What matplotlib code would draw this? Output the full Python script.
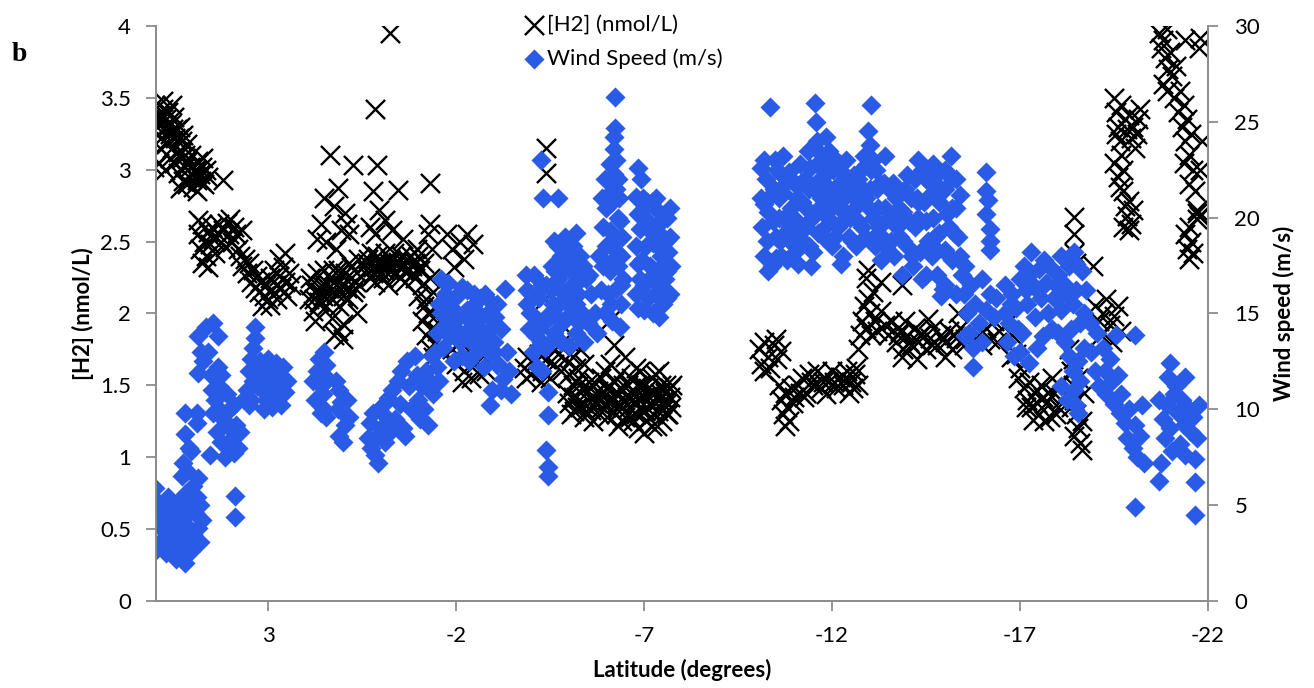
import numpy as np
import matplotlib.pyplot as plt
import matplotlib
from matplotlib.ticker import FuncFormatter

matplotlib.rcParams.update({'font.family': ['Lato', 'DejaVu Sans'], 'font.size': 16,
                            'axes.unicode_minus': False})

# dissolved H2 along the cruise track: (latitude, nmol/L)
h2_obs = [
    # 6N - 5N
    (6.0, 3.45), (5.95, 3.30), (5.9, 3.38), (5.85, 3.22), (5.8, 3.42), (5.78, 3.28), (5.72, 3.35),
    (5.7, 3.18), (5.65, 3.40), (5.62, 3.25), (5.58, 3.32), (5.55, 3.15), (5.5, 3.37), (5.47, 3.22),
    (5.42, 3.28), (5.4, 3.12), (5.35, 3.30), (5.3, 3.20), (5.25, 3.24), (5.2, 3.10), (5.15, 3.18),
    (6.02, 3.02), (5.9, 3.05), (5.75, 3.0), (5.88, 3.15), (5.6, 3.08), (5.8, 3.48), (5.55, 3.45),
    (5.98, 3.35), (5.92, 3.25), (5.82, 3.35), (5.68, 3.3), (5.52, 3.28), (5.38, 3.22), (5.28, 3.12),
    (5.5, 3.05), (5.4, 2.98), (5.3, 3.08), (5.25, 2.92), (5.2, 3.02), (5.1, 2.95), (5.05, 3.1),
    (5.0, 2.88), (4.95, 3.0), (4.9, 2.93), (4.85, 3.06), (4.8, 2.97), (4.75, 3.02), (4.7, 2.9),
    (4.65, 3.0), (4.6, 2.95), (5.35, 2.87), (4.9, 2.85), (5.15, 2.9), (4.72, 3.08), (4.2, 2.93),
    (5.18, 3.05), (5.08, 3.02), (4.98, 2.95), (4.88, 3.0), (4.78, 2.92),
    # 5N - 2N
    (4.85, 2.55), (4.8, 2.45), (4.75, 2.62), (4.7, 2.5), (4.65, 2.40), (4.6, 2.57), (4.55, 2.48),
    (4.5, 2.6), (4.45, 2.52), (4.4, 2.42), (4.35, 2.56), (4.3, 2.62), (4.25, 2.5), (4.2, 2.58),
    (4.15, 2.46), (4.1, 2.63), (4.05, 2.55), (4.0, 2.66), (3.95, 2.5), (3.9, 2.6), (4.75, 2.35),
    (4.6, 2.32), (4.85, 2.65), (3.85, 2.55), (3.7, 2.58), (3.8, 2.45),
    (3.75, 2.4), (3.7, 2.33), (3.6, 2.38), (3.55, 2.28), (3.5, 2.35), (3.45, 2.22), (3.4, 2.3),
    (3.35, 2.18), (3.3, 2.26), (3.25, 2.15), (3.2, 2.22), (3.1, 2.12), (3.05, 2.2), (3.0, 2.1),
    (2.95, 2.25), (2.9, 2.16), (2.85, 2.3), (2.8, 2.2), (2.75, 2.1), (2.7, 2.26), (2.65, 2.18),
    (2.6, 2.32), (2.55, 2.22), (2.5, 2.12), (2.45, 2.28), (2.4, 2.2), (3.15, 2.05), (2.95, 2.06),
    (2.7, 2.38), (2.55, 2.42),
    # 2N - 0
    (1.5, 2.8), (1.35, 3.1), (1.25, 2.75), (1.15, 2.87), (0.95, 2.7), (0.75, 3.03), (1.6, 2.62),
    (1.05, 2.58), (0.85, 2.55), (1.45, 2.5), (1.7, 2.52), (1.2, 2.45), (0.9, 2.62),
    (1.9, 2.1), (1.85, 2.2), (1.8, 2.02), (1.75, 2.15), (1.7, 2.28), (1.65, 2.08), (1.6, 2.2),
    (1.55, 2.12), (1.5, 2.3), (1.45, 2.05), (1.4, 2.18), (1.35, 2.25), (1.3, 2.1), (1.25, 2.22),
    (1.2, 2.14), (1.15, 2.3), (1.1, 2.05), (1.05, 2.2), (1.0, 2.12), (0.95, 2.28), (0.9, 2.18),
    (0.85, 2.35), (0.8, 2.25), (0.75, 2.15), (0.7, 2.3), (0.65, 2.22), (0.6, 2.38), (1.75, 1.95),
    (1.3, 1.97), (1.15, 1.88), (1.0, 1.93), (0.62, 2.0), (1.25, 1.85), (1.0, 1.82),
    (1.88, 2.25), (1.78, 2.1), (1.62, 2.15), (1.48, 2.2), (1.38, 2.12), (1.28, 2.3), (1.18, 2.2),
    (1.08, 2.28), (0.98, 2.2), (0.88, 2.1), (0.78, 2.32), (0.68, 2.18),
    # equator
    (0.16, 3.42), (-0.24, 3.95), (0.1, 3.03), (0.2, 2.85), (0.05, 2.72), (-0.1, 2.65), (0.3, 2.6),
    (-0.45, 2.86), (0.15, 2.55), (-0.3, 2.58), (-0.6, 2.52),
    (0.4, 2.3), (0.35, 2.38), (0.3, 2.25), (0.25, 2.42), (0.2, 2.32), (0.15, 2.22), (0.1, 2.4),
    (0.05, 2.3), (0.0, 2.35), (-0.05, 2.25), (-0.1, 2.42), (-0.15, 2.32), (-0.2, 2.2), (-0.25, 2.38),
    (-0.3, 2.3), (-0.35, 2.42), (-0.4, 2.28), (-0.45, 2.36), (-0.5, 2.25), (-0.55, 2.4), (-0.6, 2.32),
    (-0.65, 2.22), (-0.7, 2.38), (-0.75, 2.3), (-0.8, 2.4), (-0.85, 2.28), (-0.9, 2.35), (-0.95, 2.45),
    (0.38, 2.35), (0.22, 2.28), (0.08, 2.35), (-0.08, 2.3), (-0.22, 2.35), (-0.38, 2.35),
    (-0.52, 2.32), (-0.68, 2.3), (-0.82, 2.33), (-0.92, 2.25),
    (-1.0, 2.4), (-1.05, 2.3), (-1.1, 2.2), (-1.15, 2.35), (-1.2, 2.1), (-1.25, 2.0), (-1.3, 2.25),
    (-1.35, 1.9), (-1.4, 2.15), (-1.45, 1.8), (-1.5, 2.05), (-1.55, 1.75), (-1.1, 1.95), (-1.2, 1.85),
    (-1.3, 1.75), (-1.4, 1.7), (-1.5, 1.88), (-1.35, 2.45), (-1.3, 2.62), (-1.25, 2.55), (-1.0, 2.12),
    (-1.45, 1.98), (-1.15, 2.05), (-1.31, 2.91),
    # 2S - 5S
    (-1.75, 2.55), (-1.9, 2.45), (-2.1, 2.5), (-2.2, 2.38), (-2.45, 2.48), (-1.95, 2.32), (-2.3, 2.55),
    (-1.9, 1.75), (-2.0, 1.65), (-2.1, 1.8), (-2.2, 1.6), (-2.3, 1.7), (-2.4, 1.55), (-2.5, 1.65),
    (-2.6, 1.58), (-2.7, 1.72), (-2.8, 1.6), (-2.9, 1.68), (-2.15, 1.52), (-2.55, 1.8),
    (-3.8, 1.62), (-3.9, 1.7), (-4.0, 1.58), (-4.1, 1.66), (-4.2, 1.72), (-4.3, 1.6), (-4.4, 1.68),
    (-4.5, 1.55), (-4.6, 1.65), (-4.7, 1.72), (-4.8, 1.6), (-4.9, 1.68), (-5.0, 1.58), (-5.1, 1.7),
    (-5.2, 1.62), (-5.3, 1.75), (-5.4, 1.65), (-3.85, 1.55), (-4.25, 1.52), (-4.75, 1.78),
    (-4.39, 3.15), (-4.39, 2.98), (-4.37, 2.1), (-4.9, 1.9), (-5.0, 1.8),
    # 5S - 8S
    (-4.95, 1.45), (-5.0, 1.38), (-5.1, 1.5), (-5.15, 1.32), (-5.2, 1.42), (-5.3, 1.35), (-5.35, 1.48),
    (-5.4, 1.28), (-5.5, 1.4), (-5.55, 1.52), (-5.6, 1.33), (-5.7, 1.45), (-5.75, 1.38), (-5.8, 1.3),
    (-5.85, 1.55), (-5.9, 1.42), (-5.95, 1.6), (-6.0, 1.35), (-6.05, 1.48), (-6.1, 1.65), (-6.15, 1.4),
    (-6.2, 1.52), (-6.25, 1.3), (-6.3, 1.45), (-6.35, 1.58), (-6.4, 1.36), (-6.45, 1.5), (-6.5, 1.28),
    (-6.55, 1.42), (-6.6, 1.35), (-6.65, 1.55), (-6.7, 1.25), (-6.75, 1.45), (-6.8, 1.38), (-6.85, 1.2),
    (-6.9, 1.5), (-6.95, 1.32), (-7.0, 1.42), (-7.05, 1.25), (-7.1, 1.48), (-7.15, 1.36), (-7.2, 1.55),
    (-7.25, 1.3), (-7.3, 1.45), (-7.35, 1.22), (-7.4, 1.4), (-7.45, 1.5), (-7.5, 1.33), (-7.55, 1.45),
    (-7.6, 1.38), (-7.65, 1.3), (-7.7, 1.42), (-7.75, 1.5), (-5.25, 1.55), (-5.65, 1.25), (-6.3, 1.22),
    (-6.9, 1.6), (-7.0, 1.17), (-7.3, 1.58),
    (-5.05, 1.3), (-5.12, 1.42), (-5.22, 1.35), (-5.28, 1.5), (-5.38, 1.38), (-5.45, 1.32),
    (-5.52, 1.46), (-5.62, 1.4), (-5.68, 1.52), (-5.78, 1.46), (-5.88, 1.35), (-5.98, 1.48),
    (-6.02, 1.28), (-6.08, 1.4), (-6.18, 1.32), (-6.22, 1.45), (-6.28, 1.38), (-6.38, 1.48),
    (-6.42, 1.25), (-6.48, 1.4), (-6.58, 1.5), (-6.62, 1.28), (-6.68, 1.4), (-6.78, 1.3),
    (-6.82, 1.5), (-6.88, 1.4), (-6.98, 1.5), (-7.02, 1.32), (-7.08, 1.4), (-7.18, 1.45),
    (-7.22, 1.22), (-7.28, 1.38), (-7.38, 1.32), (-7.42, 1.45), (-7.48, 1.25), (-7.52, 1.4),
    (-7.58, 1.5), (-7.62, 1.3), (-7.68, 1.48), (-7.72, 1.35),
    (-6.13, 1.96), (-6.2, 1.78), (-6.5, 1.7), (-7.4, 1.6), (-6.8, 1.62),
    # 10S - 13S
    (-10.05, 1.75), (-10.1, 1.65), (-10.2, 1.8), (-10.3, 1.7), (-10.35, 1.62), (-10.45, 1.78),
    (-10.55, 1.68), (-10.65, 1.74), (-10.2, 1.6), (-10.5, 1.82),
    (-10.6, 1.5), (-10.65, 1.4), (-10.7, 1.3), (-10.75, 1.45), (-10.8, 1.35), (-10.85, 1.25),
    (-10.9, 1.48), (-10.95, 1.38), (-11.0, 1.42), (-10.75, 1.22),
    (-11.1, 1.5), (-11.2, 1.55), (-11.3, 1.45), (-11.4, 1.58), (-11.5, 1.5), (-11.6, 1.6),
    (-11.7, 1.48), (-11.8, 1.56), (-11.9, 1.52), (-12.0, 1.6), (-12.1, 1.48), (-12.2, 1.56),
    (-12.3, 1.5), (-12.4, 1.6), (-12.5, 1.52), (-12.6, 1.58), (-12.7, 1.5), (-11.25, 1.42),
    (-11.85, 1.44), (-12.45, 1.45), (-12.65, 1.62),
    (-11.15, 1.45), (-11.45, 1.52), (-11.75, 1.52), (-12.05, 1.52), (-12.35, 1.55), (-12.55, 1.48),
    # 13S - 17S
    (-12.7, 1.75), (-12.75, 1.85), (-12.8, 1.95), (-12.85, 2.05), (-12.9, 1.9), (-12.95, 2.1),
    (-13.0, 2.0), (-13.05, 1.85), (-13.1, 2.15), (-13.15, 1.95), (-13.2, 1.88), (-13.3, 2.02),
    (-13.4, 1.92), (-13.5, 1.85), (-13.6, 1.95), (-12.9, 2.25), (-12.95, 2.3), (-13.3, 2.22),
    (-13.7, 1.8), (-13.8, 1.88), (-13.9, 1.75), (-14.0, 1.85), (-14.1, 1.78), (-14.2, 1.9),
    (-14.3, 1.8), (-14.4, 1.86), (-14.5, 1.75), (-14.6, 1.83), (-14.7, 1.9), (-14.8, 1.78),
    (-14.9, 1.85), (-15.0, 1.8), (-15.1, 1.88), (-15.2, 1.75), (-15.3, 1.83), (-15.4, 1.9),
    (-15.5, 1.78), (-15.6, 1.85), (-13.85, 1.7), (-14.25, 1.68), (-14.55, 1.96), (-15.0, 1.7),
    (-15.35, 2.0), (-13.95, 1.95), (-13.85, 2.2),
    (-13.75, 1.85), (-14.05, 1.8), (-14.35, 1.85), (-14.65, 1.78), (-14.95, 1.82), (-15.25, 1.85),
    (-15.55, 1.82),
    (-15.9, 1.85), (-16.0, 1.78), (-16.1, 1.9), (-16.2, 1.82), (-16.3, 1.95), (-16.4, 1.8), (-16.45, 1.88),
    # 17S - 19S
    (-16.7, 1.95), (-16.8, 1.85), (-16.9, 1.72), (-17.0, 1.62), (-16.75, 1.7), (-16.95, 1.55),
    (-17.1, 1.48), (-17.2, 1.4), (-17.3, 1.35), (-17.4, 1.45), (-17.5, 1.3), (-17.6, 1.42),
    (-17.7, 1.38), (-17.8, 1.28), (-17.9, 1.45), (-18.0, 1.35), (-18.1, 1.4), (-17.25, 1.52),
    (-17.55, 1.5), (-17.85, 1.55), (-17.35, 1.26), (-17.65, 1.25), (-18.05, 1.5),
    (-17.15, 1.35), (-17.45, 1.38), (-17.75, 1.45), (-17.95, 1.3),
    (-18.3, 1.75), (-18.35, 1.6), (-18.4, 1.5), (-18.45, 1.4), (-18.5, 1.3), (-18.55, 1.2),
    (-18.6, 1.1), (-18.65, 1.05), (-18.35, 1.35), (-18.45, 1.15), (-18.55, 1.55), (-18.65, 1.25),
    (-18.7, 1.45), (-18.4, 1.68),
    (-18.45, 2.67), (-18.45, 2.55), (-18.45, 2.42), (-18.5, 2.35), (-18.95, 2.33),
    (-19.0, 2.05), (-19.1, 1.95), (-19.2, 2.0), (-19.3, 2.1), (-19.4, 1.92), (-19.5, 1.98),
    (-19.6, 2.05), (-19.7, 1.88), (-19.15, 1.85), (-19.45, 1.8),
    # 19S - 22S
    (-19.5, 3.5), (-19.55, 3.4), (-19.6, 3.3), (-19.65, 3.2), (-19.7, 3.1), (-19.75, 3.0),
    (-19.6, 2.95), (-19.55, 3.25), (-19.5, 3.05), (-19.7, 3.45), (-19.8, 3.35), (-19.85, 3.28),
    (-19.9, 3.38), (-19.95, 3.22), (-20.0, 3.3), (-20.05, 3.15), (-20.1, 3.25), (-20.15, 3.35),
    (-20.2, 3.42), (-19.8, 2.75), (-19.85, 2.68), (-19.9, 2.78), (-19.95, 2.62), (-19.75, 2.85),
    (-20.0, 2.72), (-19.65, 2.88), (-19.75, 2.6), (-19.9, 2.58),
    (-20.7, 3.95), (-20.75, 3.85), (-20.8, 3.9), (-20.85, 3.78), (-20.9, 3.98), (-20.95, 3.7),
    (-21.0, 3.82), (-21.05, 3.65), (-20.8, 3.6), (-20.9, 3.55), (-21.1, 3.5), (-21.15, 3.72),
    (-21.2, 3.4), (-21.25, 3.55), (-21.3, 3.3), (-21.35, 3.45), (-21.4, 3.2), (-21.45, 3.35),
    (-21.5, 3.1), (-21.55, 3.25), (-21.6, 3.0), (-21.65, 2.85), (-21.7, 2.72), (-21.75, 2.68),
    (-21.5, 2.9), (-21.35, 3.05), (-21.8, 3.0), (-21.85, 3.2), (-21.8, 3.92), (-21.75, 3.85),
    (-21.4, 3.9),
    (-21.4, 2.55), (-21.45, 2.45), (-21.5, 2.38), (-21.55, 2.5), (-21.6, 2.42), (-21.5, 2.6),
    (-21.7, 2.7), (-21.72, 2.66),
]

# wind speed along the same track: (latitude, m/s)
wind_obs = [
    # 6N - 4N
    (6.0, 5.9), (5.95, 5.2), (5.9, 4.5), (5.85, 3.8), (5.8, 4.9), (5.75, 3.2), (5.7, 4.2),
    (5.65, 5.4), (5.6, 3.5), (5.55, 4.6), (5.5, 2.8), (5.45, 3.9), (5.4, 4.8), (5.35, 2.4),
    (5.3, 3.4), (5.25, 4.3), (5.2, 2.0), (5.15, 3.0), (5.1, 3.8), (6.0, 2.6), (5.9, 3.0),
    (5.7, 2.5), (5.5, 5.0), (5.05, 2.6), (5.0, 3.5), (5.3, 5.3), (5.45, 2.2),
    (5.3, 6.5), (5.25, 7.2), (5.2, 5.6), (5.15, 6.8), (5.1, 5.0), (5.05, 7.8), (5.0, 6.0),
    (4.95, 4.6), (4.9, 5.4), (4.85, 6.4), (4.8, 5.0), (4.75, 4.2), (5.1, 8.0), (4.9, 4.9),
    (4.85, 3.8), (4.8, 3.1), (5.2, 9.8), (4.9, 9.8), (4.9, 9.3), (5.2, 8.7),
    (4.65, 14.3), (4.33, 13.8), (4.86, 13.8), (4.78, 13.0), (4.6, 13.0), (4.33, 12.2),
    (4.86, 11.9), (4.52, 11.8), (4.25, 11.8), (4.45, 14.5), (4.72, 12.5),
    # 4N - 2N
    (4.5, 11.0), (4.4, 10.5), (4.3, 10.0), (4.2, 9.5), (4.1, 10.8), (4.0, 9.0), (3.95, 8.5),
    (3.9, 10.2), (3.85, 9.2), (3.8, 8.0), (4.45, 9.8), (4.35, 8.8), (4.25, 8.3), (4.15, 7.5),
    (4.05, 8.0), (3.75, 8.8), (4.55, 7.6), (4.3, 11.2), (4.0, 10.0), (3.9, 7.7),
    (3.88, 5.5), (3.88, 4.4),
    (3.35, 14.3), (3.35, 13.7), (3.4, 13.2), (3.45, 12.6), (3.5, 12.0), (3.4, 11.5), (3.55, 11.0),
    (3.45, 10.5), (3.5, 10.2), (3.3, 12.3), (3.3, 11.2), (3.6, 10.6),
    (3.2, 12.5), (3.1, 11.8), (3.0, 12.6), (2.9, 12.0), (2.8, 12.4), (2.7, 11.7), (2.6, 12.2),
    (2.5, 11.5), (3.15, 11.0), (3.05, 10.5), (2.95, 11.2), (2.85, 10.3), (2.75, 10.8), (2.65, 10.2),
    (2.55, 10.9), (3.1, 10.0), (2.9, 10.1), (2.7, 11.0), (3.2, 11.5), (2.6, 11.4),
    # 2N - 1S
    (1.8, 11.5), (1.75, 10.5), (1.7, 12.0), (1.65, 12.6), (1.6, 11.2), (1.5, 13.0), (1.45, 12.3),
    (1.4, 11.6), (1.55, 10.8), (1.5, 10.0), (1.45, 9.6), (1.6, 9.8), (1.2, 11.5), (1.1, 11.0),
    (1.05, 10.4), (1.0, 9.8), (0.95, 9.2), (1.1, 8.6), (1.0, 8.3), (0.9, 10.5), (1.15, 10.0),
    (0.85, 9.6),
    (0.34, 8.5), (0.3, 9.3), (0.25, 8.0), (0.2, 9.8), (0.1, 8.6), (0.08, 7.2), (0.0, 9.0),
    (-0.05, 10.2), (-0.1, 8.3), (-0.15, 9.6), (-0.2, 10.6), (-0.25, 8.8), (-0.3, 11.0),
    (-0.38, 9.5), (-0.45, 11.5), (-0.5, 10.3), (-0.55, 12.0), (-0.6, 9.0), (-0.7, 12.5),
    (-0.75, 11.2), (-0.8, 10.0), (-0.9, 12.8), (-0.95, 11.8), (0.15, 7.6), (-0.65, 8.6),
    (-1.0, 10.5), (-1.05, 9.5), (-1.1, 11.2), (-1.15, 10.0), (-1.2, 12.0), (-1.25, 9.2),
    (-1.3, 11.5), (-1.35, 12.8), (-1.4, 10.8), (-1.45, 13.0), (-1.5, 12.2), (-1.55, 11.5),
    # 1S - 3S
    (-1.5, 14.0), (-1.6, 15.0), (-1.65, 13.2), (-1.7, 16.0), (-1.75, 14.5), (-1.8, 16.6),
    (-1.85, 13.8), (-1.9, 15.3), (-2.0, 14.2), (-2.05, 16.0), (-2.1, 13.5), (-2.2, 15.0),
    (-2.25, 14.0), (-2.3, 16.2), (-2.4, 13.5), (-2.45, 15.4), (-2.5, 14.5), (-2.6, 13.8),
    (-2.65, 15.8), (-2.7, 14.8), (-2.8, 13.5), (-2.85, 15.0), (-2.9, 14.2), (-3.0, 13.0),
    (-3.05, 14.8), (-1.95, 12.5), (-2.35, 12.5), (-2.75, 12.2), (-3.1, 12.4), (-1.6, 16.8),
    (-2.95, 11.0), (-2.9, 10.2),
    (-1.55, 15.5), (-1.68, 14.2), (-1.78, 15.4), (-1.88, 14.8), (-1.98, 15.8), (-2.08, 14.8),
    (-2.15, 16.4), (-2.28, 15.2), (-2.38, 14.6), (-2.48, 16.0), (-2.58, 15.0), (-2.62, 14.2),
    (-2.78, 16.0), (-2.88, 13.0), (-2.98, 15.5), (-2.15, 12.8), (-2.55, 13.0),
    (-3.3, 16.3), (-2.9, 14.8), (-3.0, 13.5), (-3.1, 12.3), (-3.2, 14.2), (-3.25, 11.6),
    (-3.35, 13.0), (-3.4, 12.0), (-3.45, 10.8), (-3.2, 11.0), (-3.1, 15.5),
    # 4S - 6S
    (-3.85, 17.0), (-3.9, 15.5), (-3.95, 14.2), (-4.0, 16.0), (-4.05, 13.0), (-4.1, 14.8),
    (-4.15, 12.2), (-4.2, 15.8), (-4.25, 13.5), (-4.3, 12.0), (-4.35, 14.5), (-4.4, 16.5),
    (-3.88, 16.2), (-3.98, 15.0), (-4.08, 17.0), (-4.12, 13.8), (-4.22, 14.2), (-4.28, 16.5),
    (-4.38, 13.2),
    (-4.31, 21.0), (-4.71, 21.0), (-4.26, 23.0),
    (-4.45, 10.9), (-4.45, 9.7), (-4.4, 7.9), (-4.45, 7.0), (-4.45, 6.5),
    (-4.5, 15.0), (-4.55, 17.5), (-4.6, 14.0), (-4.65, 16.5), (-4.7, 18.5), (-4.75, 15.5),
    (-4.8, 13.5), (-4.85, 17.2), (-4.9, 19.0), (-4.95, 14.8), (-5.0, 16.2), (-5.05, 18.2),
    (-5.1, 15.0), (-5.15, 17.0), (-5.2, 14.0), (-5.25, 16.0), (-5.3, 18.0), (-5.35, 15.0),
    (-5.4, 13.5), (-4.6, 18.8), (-5.2, 19.2), (-4.5, 13.5), (-5.45, 16.8), (-5.0, 13.3),
    (-4.52, 16.2), (-4.58, 15.5), (-4.62, 17.2), (-4.68, 14.8), (-4.72, 16.8), (-4.78, 18.0),
    (-4.82, 14.5), (-4.88, 16.0), (-4.92, 17.8), (-4.98, 15.5), (-5.02, 17.5), (-5.08, 16.5),
    (-5.12, 18.5), (-5.18, 15.5), (-5.22, 17.8), (-5.28, 14.5), (-5.32, 16.8), (-5.38, 17.5),
    (-5.42, 14.8),
    (-5.5, 14.5), (-5.6, 16.0), (-5.7, 15.0), (-5.55, 17.0), (-5.75, 14.0),
    # 6S - 8S
    (-6.23, 26.3), (-6.23, 24.7), (-6.2, 24.2), (-6.2, 23.6), (-6.25, 23.0), (-6.2, 22.3),
    (-6.25, 21.5), (-6.15, 20.8), (-6.3, 20.0), (-6.1, 19.3), (-6.35, 19.8), (-6.0, 18.5),
    (-6.2, 18.8), (-6.4, 18.0), (-5.9, 17.5), (-6.1, 17.2), (-6.3, 17.5), (-6.45, 16.8),
    (-5.85, 16.2), (-6.05, 16.0), (-6.25, 16.3), (-6.4, 15.5), (-5.95, 15.0), (-6.15, 14.6),
    (-6.35, 14.3), (-5.8, 18.0), (-5.9, 19.5), (-6.0, 20.5), (-6.3, 22.0), (-6.15, 21.8),
    (-5.88, 21.0), (-5.95, 22.0), (-6.05, 21.2), (-6.1, 22.8), (-6.12, 15.5), (-6.18, 17.8),
    (-6.28, 18.2), (-6.33, 21.0), (-6.38, 16.5), (-6.42, 19.0),
    (-6.84, 22.6), (-6.92, 22.0), (-6.8, 21.1), (-6.85, 20.2), (-6.9, 19.4), (-6.8, 18.5),
    (-6.85, 17.6), (-6.9, 16.8), (-6.8, 16.0), (-7.0, 20.5), (-7.1, 19.8), (-7.2, 20.8),
    (-7.3, 19.5), (-7.4, 20.3), (-7.5, 19.0), (-7.6, 20.0), (-7.05, 18.5), (-7.15, 17.5),
    (-7.25, 18.7), (-7.35, 17.2), (-7.45, 18.0), (-7.55, 16.8), (-7.65, 18.2), (-7.0, 16.5),
    (-7.1, 15.8), (-7.3, 16.0), (-7.5, 15.5), (-7.6, 17.2), (-7.7, 19.0), (-7.0, 15.2),
    (-7.4, 14.8),
    (-6.85, 15.3), (-6.95, 17.8), (-6.98, 21.0), (-7.08, 20.8), (-7.12, 16.8), (-7.2, 19.2),
    (-7.28, 17.2), (-7.32, 21.0), (-7.38, 18.5), (-7.42, 16.5), (-7.48, 19.8), (-7.52, 17.5),
    (-7.58, 18.8), (-7.62, 15.8), (-7.68, 20.5), (-7.72, 17.5), (-7.7, 16.0), (-7.25, 15.0),
    # 10S - 13S
    (-10.1, 21.0), (-10.15, 19.5), (-10.2, 18.0), (-10.25, 22.0), (-10.3, 20.3), (-10.35, 25.8),
    (-10.4, 17.5), (-10.45, 21.5), (-10.5, 19.0), (-10.55, 22.5), (-10.6, 20.0), (-10.65, 18.0),
    (-10.7, 21.3), (-10.75, 19.2), (-10.8, 17.8), (-10.85, 22.4), (-10.9, 20.5), (-10.95, 18.6),
    (-11.0, 21.8), (-11.05, 19.8), (-11.1, 17.6), (-11.15, 22.8), (-11.2, 20.8), (-10.2, 23.0),
    (-10.7, 23.2), (-10.3, 17.2),
    (-10.12, 22.6), (-10.18, 20.7), (-10.28, 18.8), (-10.38, 21.2), (-10.42, 19.8), (-10.48, 23.0),
    (-10.52, 17.9), (-10.58, 21.0), (-10.62, 18.8), (-10.68, 22.2), (-10.72, 20.0), (-10.78, 21.8),
    (-10.82, 18.9), (-10.88, 19.5), (-10.92, 22.0), (-10.98, 20.0), (-11.02, 18.2), (-11.08, 21.0),
    (-11.12, 19.2), (-11.18, 21.8), (-11.22, 18.8),
    (-11.3, 19.5), (-11.35, 23.5), (-11.4, 21.5), (-11.5, 18.2), (-11.55, 26.0), (-11.57, 25.0),
    (-11.6, 24.0), (-11.6, 22.8), (-11.65, 20.5), (-11.7, 23.3), (-11.75, 19.0), (-11.8, 21.8),
    (-11.85, 24.2), (-11.9, 20.0), (-11.95, 22.5), (-12.0, 18.5), (-12.05, 21.0), (-12.1, 23.0),
    (-12.15, 19.5), (-12.2, 21.8), (-12.3, 18.0), (-12.35, 22.2), (-12.4, 20.2), (-12.45, 19.0),
    (-12.5, 21.5), (-11.45, 17.5), (-12.25, 17.6),
    (-11.28, 22.0), (-11.32, 20.5), (-11.38, 18.5), (-11.42, 22.6), (-11.48, 20.0), (-11.52, 21.5),
    (-11.62, 19.2), (-11.68, 22.0), (-11.72, 21.0), (-11.78, 23.0), (-11.82, 19.5), (-11.88, 21.2),
    (-11.92, 23.5), (-11.98, 20.5), (-12.02, 22.5), (-12.08, 19.0), (-12.12, 21.5), (-12.18, 20.5),
    (-12.22, 22.8), (-12.28, 19.8), (-12.32, 21.0), (-12.38, 23.0), (-12.42, 21.8), (-12.48, 20.0),
    (-12.52, 18.8),
    (-12.6, 20.5), (-12.65, 18.5), (-12.7, 22.0), (-12.8, 19.5), (-12.85, 23.2), (-12.9, 21.0),
    (-12.95, 24.5), (-13.04, 25.9), (-13.0, 23.8), (-13.05, 22.5), (-13.1, 20.0), (-13.15, 18.5),
    (-13.2, 21.5), (-13.25, 19.5), (-13.3, 17.8), (-13.4, 20.5), (-13.45, 18.5), (-13.4, 23.2),
    (-12.58, 22.2), (-12.62, 21.0), (-12.68, 19.8), (-12.72, 20.8), (-12.78, 22.5), (-12.82, 21.5),
    (-12.88, 19.0), (-12.92, 22.8), (-12.98, 20.5), (-13.02, 21.5), (-13.08, 23.0), (-13.12, 19.0),
    (-13.18, 22.5), (-13.22, 20.5), (-13.28, 21.8), (-13.32, 19.0), (-13.38, 21.8),
    # 13S - 16S
    (-13.6, 20.0), (-13.65, 18.0), (-13.7, 21.0), (-13.8, 19.0), (-13.85, 17.0), (-13.9, 20.3),
    (-14.0, 18.5), (-14.1, 21.0), (-14.15, 17.5), (-14.2, 19.5), (-14.3, 20.8), (-14.35, 18.2),
    (-14.4, 16.8), (-14.5, 19.8), (-14.6, 21.2), (-14.65, 18.0), (-14.7, 20.0), (-14.8, 17.0),
    (-14.85, 19.2), (-14.9, 21.5), (-15.0, 18.3), (-15.05, 20.2), (-14.95, 16.3),
    (-13.48, 20.0), (-13.52, 21.5), (-13.58, 18.8), (-13.62, 21.8), (-13.72, 19.5), (-13.78, 20.5),
    (-13.88, 18.8), (-13.95, 21.5), (-14.05, 19.8), (-14.12, 18.0), (-14.25, 21.0), (-14.45, 20.8),
    (-14.55, 18.8), (-14.75, 19.0), (-14.85, 20.8), (-15.1, 18.0), (-15.25, 19.2),
    (-15.16, 23.2), (-14.2, 22.0), (-14.4, 22.5), (-14.6, 21.8), (-14.8, 22.3), (-15.0, 21.5),
    (-15.2, 22.0), (-15.3, 20.5), (-15.4, 21.2), (-15.1, 19.5), (-15.35, 19.0), (-14.3, 20.0),
    (-14.0, 22.2), (-14.3, 23.0), (-14.5, 22.0), (-14.7, 22.8), (-15.0, 22.5), (-15.2, 20.5),
    (-15.3, 22.0),
    (-14.5, 17.0), (-14.7, 18.5), (-15.0, 16.5), (-15.2, 17.8), (-15.3, 16.0), (-14.9, 15.9),
    (-16.1, 22.4), (-16.1, 21.4), (-16.15, 20.9), (-16.1, 20.2), (-16.2, 19.4), (-16.2, 18.8),
    (-16.2, 18.3),
    (-15.4, 18.0), (-15.45, 17.0), (-15.5, 16.0), (-15.55, 17.5), (-15.6, 15.0), (-15.65, 14.0),
    (-15.7, 16.5), (-15.75, 13.2), (-15.75, 12.2), (-15.8, 15.5), (-15.9, 14.5), (-16.0, 16.8),
    (-16.1, 15.2), (-16.2, 16.0), (-16.3, 14.8), (-16.35, 15.8), (-15.55, 13.8), (-16.0, 13.5),
    # 16S - 19S
    (-16.6, 15.0), (-16.65, 13.5), (-16.7, 14.5), (-16.8, 16.0), (-16.85, 12.8), (-16.9, 15.3),
    (-17.0, 16.8), (-17.05, 14.0), (-17.1, 17.5), (-17.2, 15.5), (-17.3, 18.2), (-17.35, 16.5),
    (-17.4, 14.8), (-17.5, 17.3), (-17.55, 15.8), (-17.6, 13.8), (-17.7, 16.6), (-17.75, 15.0),
    (-17.8, 17.4), (-17.85, 14.2), (-17.9, 15.8), (-17.0, 13.0), (-17.25, 12.4), (-17.45, 13.2),
    (-16.6, 16.5), (-16.75, 15.5), (-16.95, 14.2), (-17.15, 16.2), (-17.25, 17.0), (-17.45, 16.2),
    (-17.65, 17.8), (-17.95, 16.5), (-18.05, 15.8), (-18.25, 16.0), (-18.35, 14.2), (-18.5, 17.6),
    (-18.75, 16.2),
    (-18.0, 17.0), (-18.1, 18.0), (-18.2, 16.5), (-18.3, 17.5), (-18.4, 15.5), (-18.45, 18.2),
    (-18.5, 16.2), (-18.6, 14.5), (-18.65, 17.2), (-18.7, 15.0), (-18.0, 14.0), (-18.1, 15.2),
    (-18.2, 13.5), (-18.3, 12.8), (-18.4, 12.0), (-18.45, 11.0), (-18.5, 10.2), (-18.55, 12.5),
    (-18.6, 11.5), (-18.7, 13.2), (-18.55, 9.8), (-18.1, 11.2), (-18.25, 10.5),
    # 19S - 22S
    (-18.85, 14.5), (-18.9, 13.0), (-19.0, 12.0), (-19.05, 14.0), (-19.1, 11.2), (-19.2, 13.2),
    (-19.25, 12.0), (-19.3, 10.8), (-19.4, 12.6), (-19.45, 11.5), (-19.5, 10.3), (-19.6, 11.8),
    (-19.65, 9.8), (-19.7, 10.8), (-19.8, 9.3), (-19.85, 8.5), (-19.9, 10.0), (-20.0, 8.0),
    (-20.05, 9.2), (-20.1, 7.5), (-20.2, 8.6), (-20.25, 10.2), (-19.55, 13.9), (-20.3, 7.2),
    (-20.06, 13.9),
    (-21.0, 12.4), (-20.95, 11.7), (-21.4, 11.7), (-20.7, 10.5), (-20.8, 9.5), (-20.85, 8.5),
    (-20.9, 10.2), (-21.0, 9.0), (-21.05, 7.8), (-21.1, 10.8), (-21.2, 9.8), (-21.25, 8.2),
    (-21.3, 10.5), (-21.35, 9.2), (-21.4, 7.6), (-21.5, 10.0), (-21.55, 8.8), (-21.6, 9.6),
    (-21.65, 7.4), (-21.7, 8.5), (-21.75, 10.2), (-20.7, 6.25), (-21.65, 6.2), (-20.06, 4.9),
    (-21.65, 4.5), (-20.75, 7.2), (-21.15, 11.2),
]

lat_ticks = [3, -2, -7, -12, -17, -22]
h2_ticks = [0, 0.5, 1, 1.5, 2, 2.5, 3, 3.5, 4]
wind_ticks = [0, 5, 10, 15, 20, 25, 30]

h2_lat, h2_val = np.array(h2_obs).T
wind_lat, wind_val = np.array(wind_obs).T

axis_grey = '#8c8c8c'
wind_blue = '#2a5be6'

fig = plt.figure(figsize=(13.14, 6.88), dpi=100)
ax = fig.add_axes([0.1187, 0.1265, 0.8006, 0.8357])
ax2 = ax.twinx()

ax.scatter(h2_lat, h2_val, marker='x', s=190, c='black', linewidths=1.7,
           label='[H2] (nmol/L)')
ax2.scatter(wind_lat, wind_val, marker='D', s=105, c=wind_blue, linewidths=0,
            label='Wind Speed (m/s)')

ax.set_xlim(5.98, -22)
ax.set_xticks(lat_ticks)
ax.set_ylim(0, 4)
ax.set_yticks(h2_ticks)
ax.yaxis.set_major_formatter(FuncFormatter(lambda v, p: '%g' % v))
ax2.set_ylim(0, 30)
ax2.set_yticks(wind_ticks)

for a in (ax, ax2):
    a.spines['top'].set_visible(False)
    for s in ('left', 'right', 'bottom'):
        a.spines[s].set_color(axis_grey)
        a.spines[s].set_linewidth(1.3)
    a.tick_params(direction='out', length=7, width=1.3, color=axis_grey,
                  labelcolor='black', labelsize=16)
ax.tick_params(axis='x', pad=11)
ax.tick_params(axis='y', pad=11)
ax2.tick_params(axis='y', pad=12)

ax.set_xlabel('Latitude (degrees)', fontsize=16, fontweight='bold', labelpad=9)
ax.set_ylabel('[H2] (nmol/L)', fontsize=16, fontweight='bold', labelpad=4)
ax2.set_ylabel('Wind speed (m/s)', fontsize=16, fontweight='bold', labelpad=9)

fig.text(0.009, 0.912, 'b', family=['Liberation Serif', 'DejaVu Serif'],
         fontsize=20, fontweight='bold')

h1, l1 = ax.get_legend_handles_labels()
h2, l2 = ax2.get_legend_handles_labels()
fig.legend(h1 + h2, l1 + l2, loc='upper left', bbox_to_anchor=(0.381, 1.008),
           frameon=False, fontsize=16, handletextpad=0.0, labelspacing=0.62,
           handlelength=1.2, scatterpoints=1)

fig.savefig('out.png', dpi=100)
